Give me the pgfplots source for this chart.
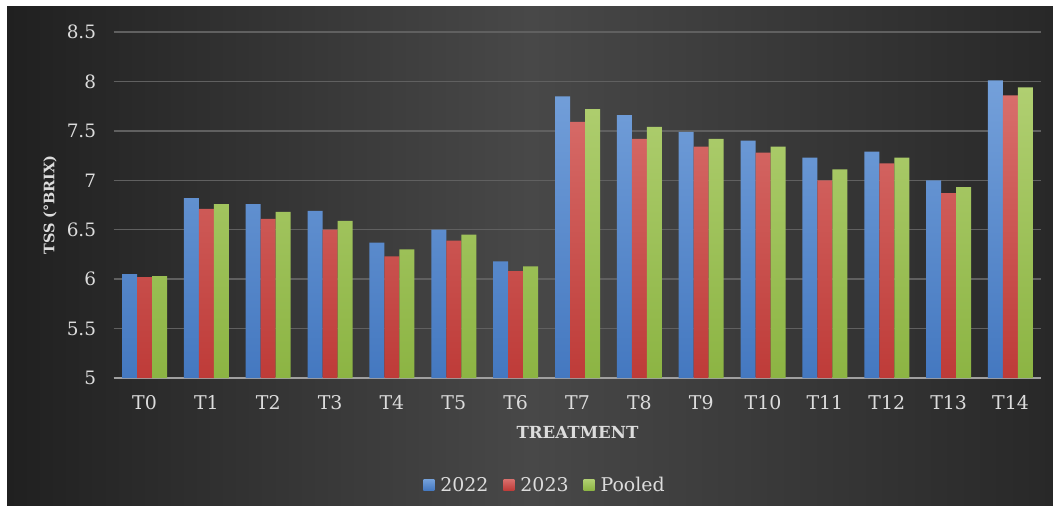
\documentclass[border=0pt]{standalone}
\usepackage{pgfplots}
\pgfplotsset{compat=1.18}
\usepackage{fontspec}
\setmainfont{DejaVu Serif}
\definecolor{txt}{HTML}{DCDCDC}
\definecolor{bgmid}{HTML}{484848}
\definecolor{bgleft}{HTML}{202020}
\definecolor{bgright}{HTML}{282828}
\definecolor{gridc}{HTML}{606060}
\definecolor{axc}{HTML}{A0A0A0}
\definecolor{btop}{HTML}{74A0DA}
\definecolor{bbot}{HTML}{4478C0}
\definecolor{rtop}{HTML}{D86E6B}
\definecolor{rbot}{HTML}{BE3B38}
\definecolor{gtop}{HTML}{B0CF71}
\definecolor{gbot}{HTML}{8CB443}
\begin{document}
\begin{tikzpicture}
\useasboundingbox (0bp,0bp) rectangle (1053bp,506bp);
\fill[white] (0bp,0bp) rectangle (1053bp,506bp);
\shade[left color=bgleft, right color=bgright, middle color=bgmid] (7bp,0bp) rectangle (1053bp,499bp);
\begin{axis}[
  at={(113.6bp,128bp)}, anchor=south west,
  scale only axis, width=927.8bp, height=346bp,
  xmin=-0.5, xmax=14.5, ymin=5, ymax=8.5,
  ybar=0pt, bar width=15bp,
  xtick={0,1,2,3,4,5,6,7,8,9,10,11,12,13,14},
  xticklabels={T0,T1,T2,T3,T4,T5,T6,T7,T8,T9,T10,T11,T12,T13,T14},
  ytick={5,5.5,6,6.5,7,7.5,8,8.5},
  /pgf/number format/assume math mode=true,
  major tick length=0pt,
  axis line style={draw=none},
  ymajorgrids, grid style={gridc, line width=1.5bp},
  xticklabel style={font=\fontsize{19}{19}\selectfont, text=txt, anchor=base, yshift=-31bp},
  yticklabel style={font=\fontsize{18.5}{18.5}\selectfont, text=txt, anchor=east, xshift=-14bp},
  xlabel={TREATMENT},
  xlabel style={font=\fontsize{16.7}{16.7}\selectfont\bfseries, text=txt, at={(axis description cs:0.5,-0.156)}, anchor=center},
  ylabel={TSS (°BRIX)},
  ylabel style={font=\fontsize{14.5}{14.5}\selectfont\bfseries, text=txt, at={(axis description cs:-0.0686,0.5)}, anchor=center},
  legend style={at={(0.465,-0.309)}, anchor=center, draw=none, fill=none,
    legend columns=-1, font=\fontsize{19}{19}\selectfont, text=txt,
    /tikz/every odd column/.append style={column sep=4bp},
    /tikz/every even column/.append style={column sep=13bp}},
  legend image code/.code={\fill[#1] (0bp,-5.5bp) rectangle (11bp,5.5bp);},
  clip=false,
]
\draw[axc, line width=1.5bp] (axis cs:-0.5,5) -- (axis cs:14.5,5);
\addplot[draw=none, top color=btop, bottom color=bbot] coordinates {
(0,6.05) (1,6.82) (2,6.76) (3,6.69) (4,6.37) (5,6.50) (6,6.18) (7,7.85)
(8,7.66) (9,7.49) (10,7.40) (11,7.23) (12,7.29) (13,7.00) (14,8.01)};
\addplot[draw=none, top color=rtop, bottom color=rbot] coordinates {
(0,6.02) (1,6.71) (2,6.61) (3,6.50) (4,6.23) (5,6.39) (6,6.08) (7,7.59)
(8,7.42) (9,7.34) (10,7.28) (11,7.00) (12,7.17) (13,6.87) (14,7.86)};
\addplot[draw=none, top color=gtop, bottom color=gbot] coordinates {
(0,6.03) (1,6.76) (2,6.68) (3,6.59) (4,6.30) (5,6.45) (6,6.13) (7,7.72)
(8,7.54) (9,7.42) (10,7.34) (11,7.11) (12,7.23) (13,6.93) (14,7.94)};
\legend{2022,2023,Pooled}
\end{axis}
\end{tikzpicture}
\end{document}
